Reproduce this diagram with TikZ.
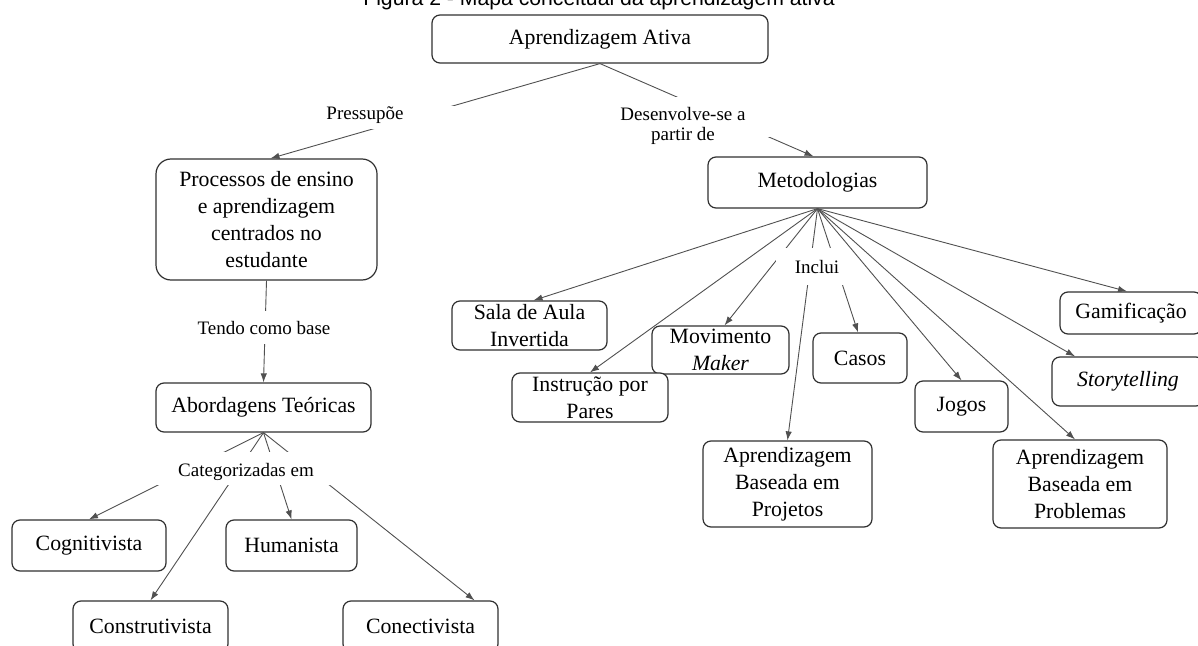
\documentclass[tikz,border=0pt]{standalone}
\usepackage{fontspec}
\setmainfont{Liberation Serif}
\newfontfamily\titlefont{Liberation Sans}
\usetikzlibrary{arrows.meta,calc}
\definecolor{boxgray}{HTML}{303030}
\definecolor{linegray}{HTML}{505050}
\begin{document}
\begin{tikzpicture}[x=0.5pt,y=-0.5pt,
  concept/.style={draw=boxgray, line width=0.6pt, rounded corners=4pt, fill=white,
    align=center, inner sep=0pt, font=\fontsize{10.9}{13.4}\selectfont},
  linktext/.style={align=center, inner sep=0pt, font=\fontsize{9.5}{10.4}\selectfont},
  conn/.style={draw=linegray, line width=0.45pt},
  arr/.style={conn, -{Latex[length=4.5pt,width=3.2pt]}},
  gapbox/.style={fill=white, draw=none}
]
\useasboundingbox (0,0) rectangle (1198,646);

% title
\node[anchor=base, inner sep=0pt, font=\titlefont\fontsize{10.6}{13}\selectfont] (title) at (599,6) {Figura 2 - Mapa conceitual da aprendizagem ativa};

% concepts
\node[concept, minimum width=168pt, minimum height=24pt] (aa) at (600,39) {Aprendizagem Ativa};
\node[concept, rounded corners=7.5pt, minimum width=110.5pt, minimum height=60.5pt] (proc) at (266.5,219.5) {Processos de ensino\\e aprendizagem\\centrados no\\estudante};
\node[concept, minimum width=107.5pt, minimum height=24.5pt] (abord) at (263.5,407.5) {Abordagens Teóricas};
\node[concept, minimum width=77pt, minimum height=25.5pt] (cog) at (89,545.5) {Cognitivista};
\node[concept, minimum width=65.5pt, minimum height=25.5pt] (hum) at (291.5,545.5) {Humanista};
\node[concept, minimum width=77.5pt, minimum height=25.5pt] (cons) at (150.5,626.5) {Construtivista};
\node[concept, minimum width=77.5pt, minimum height=25.5pt] (conec) at (420.5,626.5) {Conectivista};

\node[concept, minimum width=109.5pt, minimum height=25.5pt] (met) at (817.5,182.5) {Metodologias};
\node[concept, minimum width=77.5pt, minimum height=24.5pt] (sala) at (529.5,325.5) {Sala de Aula\\Invertida};
\node[concept, minimum width=68.5pt, minimum height=24pt] (maker) at (720.5,350) {Movimento\\\textit{Maker}};
\node[concept, minimum width=78pt, minimum height=24.5pt] (instr) at (590,397.5) {Instrução por\\Pares};
\node[concept, minimum width=47pt, minimum height=25pt] (casos) at (860,358) {Casos};
\node[concept, minimum width=84.5pt, minimum height=43pt] (proj) at (787.5,484) {Aprendizagem\\Baseada em\\Projetos};
\node[concept, minimum width=46.5pt, minimum height=25.5pt] (jogos) at (961.5,406.5) {Jogos};
\node[concept, minimum width=87pt, minimum height=44pt] (probl) at (1080,484) {Aprendizagem\\Baseada em\\Problemas};
\node[concept, minimum width=71pt, minimum height=21pt] (gamif) at (1131,313) {Gamificação};
\node[concept, minimum width=76pt, minimum height=24.5pt] (story) at (1128,381.5) {\textit{Storytelling}};

% connectors
\draw[arr] (aa.south) -- ([xshift=2pt]proc.north);
\draw[arr] (aa.south) -- ([xshift=-2pt]met.north);
\draw[arr] (proc.south) -- (abord.north);

\draw[arr] (abord.south) -- (cog.north);
\draw[arr] (abord.south) -- (cons.north);
\draw[arr] (abord.south) -- (hum.north);
\draw[arr] (abord.south) -- ([xshift=27pt]conec.north);

\draw[arr] (met.south) -- ([xshift=2pt]sala.north);
\draw[arr] (met.south) -- (instr.north);
\draw[arr] (met.south) -- ([xshift=2pt]maker.north);
\draw[arr] (met.south) -- (proj.north);
\draw[arr] (met.south) -- ([xshift=-1pt]casos.north);
\draw[arr] (met.south) -- (jogos.north);
\draw[arr] (met.south) -- ([xshift=-2.5pt]probl.north);
\draw[arr] (met.south) -- ([xshift=-26.5pt]story.north);
\draw[arr] (met.south) -- ([xshift=-2pt]gamif.north);

% gaps where linking phrases sit
\fill[gapbox] (360,106) rectangle (455,129);
\fill[gapbox] (665,97) rectangle (775,137);
\fill[gapbox] (240,311) rectangle (290,344);
\fill[gapbox] (150,452) rectangle (345,485);
\fill[gapbox] (776,248) rectangle (848,285);

% linking phrases
\node[linktext] (l1) at (365,115) {Pressupõe};
\node[linktext] (l2) at (683,126) {Desenvolve-se a\\partir de};
\node[linktext] (l3) at (264,328) {Tendo como base};
\node[linktext] (l4) at (246,472) {Categorizadas em};
\node[linktext] (l5) at (817,267) {Inclui};
\end{tikzpicture}
\end{document}
